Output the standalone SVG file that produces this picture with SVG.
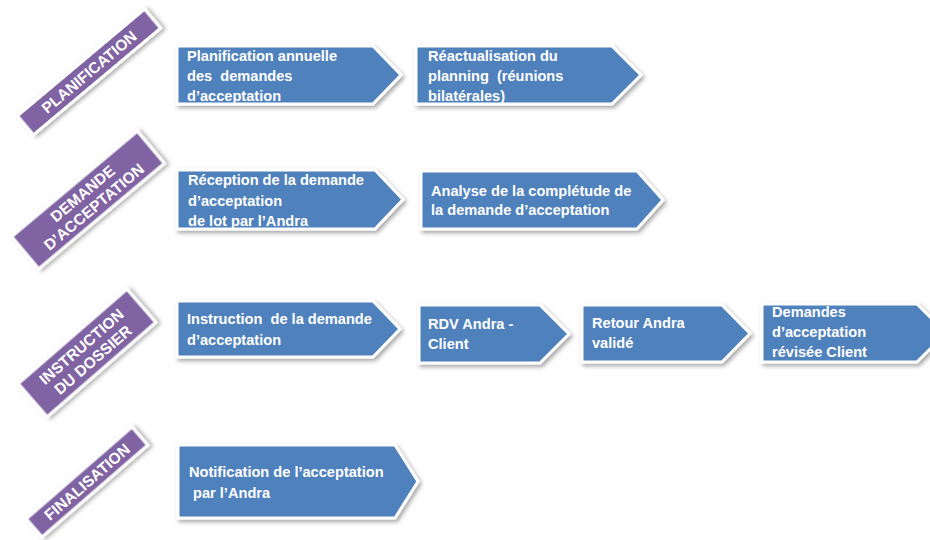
<svg xmlns="http://www.w3.org/2000/svg" width="930" height="540" viewBox="0 0 930 540">
<defs>
<filter id="sh" x="-20%" y="-30%" width="140%" height="160%">
<feDropShadow dx="2" dy="2.5" stdDeviation="2" flood-color="#000" flood-opacity="0.35"/>
</filter>
</defs>
<style>
.box{fill:#4F81BD;stroke:#fff;stroke-width:3;stroke-linejoin:miter;filter:url(#sh)}
.lab{fill:#8064A2;stroke:#fff;stroke-width:3;filter:url(#sh)}
.t{font-family:"Liberation Sans",Arial,sans-serif;font-weight:bold;font-size:14.6px;fill:#fff;white-space:pre}
.lt{font-family:"Liberation Sans",Arial,sans-serif;font-weight:bold;font-size:15.5px;fill:#fff;text-anchor:middle}
</style>
<rect width="930" height="540" fill="#fff"/>

<g id="label-planification" transform="translate(89,72) rotate(-40)">
<rect class="lab" x="-83" y="-12.5" width="166" height="25"/>
<text class="lt" x="0" y="5.5">PLANIFICATION</text>
</g>
<g id="label-demande" transform="translate(88,200) rotate(-40)">
<rect class="lab" x="-82" y="-21" width="164" height="42"/>
<text class="lt" x="0" y="-3">DEMANDE</text>
<text class="lt" x="0" y="14.5">D’ACCEPTATION</text>
</g>
<g id="label-instruction" transform="translate(87,353) rotate(-41)">
<rect class="lab" x="-72" y="-22" width="144" height="44"/>
<text class="lt" x="0" y="-3">INSTRUCTION</text>
<text class="lt" x="0" y="14.5">DU DOSSIER</text>
</g>
<g id="label-finalisation" transform="translate(87,482) rotate(-41)">
<rect class="lab" x="-70" y="-12" width="140" height="24"/>
<text class="lt" x="0" y="5.5">FINALISATION</text>
</g>

<g id="n1">
<polygon class="box" points="177,46 373,46 401,75 373,104 177,104"/>
<text class="t" x="187" y="61">Planification annuelle</text>
<text class="t" x="187" y="81">des  demandes</text>
<text class="t" x="187" y="101">d’acceptation</text>
</g>
<g id="n2">
<polygon class="box" points="416,46 612,46 641,75 612,104 416,104"/>
<text class="t" x="428" y="61">Réactualisation du</text>
<text class="t" x="428" y="81">planning  (réunions</text>
<text class="t" x="428" y="101">bilatérales)</text>
</g>
<g id="n3">
<polygon class="box" points="177,170 375,170 403,199.5 375,229 177,229"/>
<text class="t" x="188" y="185">Réception de la demande</text>
<text class="t" x="188" y="206">d’acceptation</text>
<text class="t" x="188" y="226">de lot par l’Andra</text>
</g>
<g id="n4">
<polygon class="box" points="421,171 637,171 663,200 637,229 421,229"/>
<text class="t" x="431" y="196">Analyse de la complétude de</text>
<text class="t" x="431" y="215">la demande d’acceptation</text>
</g>
<g id="n5">
<polygon class="box" points="177,301 373,301 400,329 373,357 177,357"/>
<text class="t" x="187" y="324">Instruction  de la demande</text>
<text class="t" x="187" y="345">d’acceptation</text>
</g>
<g id="n6">
<polygon class="box" points="419,305 540,305 569,334 540,363 419,363"/>
<text class="t" x="428" y="329">RDV Andra -</text>
<text class="t" x="428" y="349">Client</text>
</g>
<g id="n7">
<polygon class="box" points="582,305 722,305 750,333.5 722,362 582,362"/>
<text class="t" x="592" y="328">Retour Andra</text>
<text class="t" x="592" y="348">validé</text>
</g>
<g id="n8">
<polygon class="box" points="762,304 917,304 946,333 917,362 762,362"/>
<text class="t" x="772" y="317">Demandes</text>
<text class="t" x="772" y="337">d’acceptation</text>
<text class="t" x="772" y="357">révisée Client</text>
</g>
<g id="n9">
<polygon class="box" points="178,445 395,445 418,481.5 395,518 178,518"/>
<text class="t" x="189" y="477">Notification de l’acceptation</text>
<text class="t" x="189" y="498"> par l’Andra</text>
</g>

<g id="connectors"></g>
</svg>
